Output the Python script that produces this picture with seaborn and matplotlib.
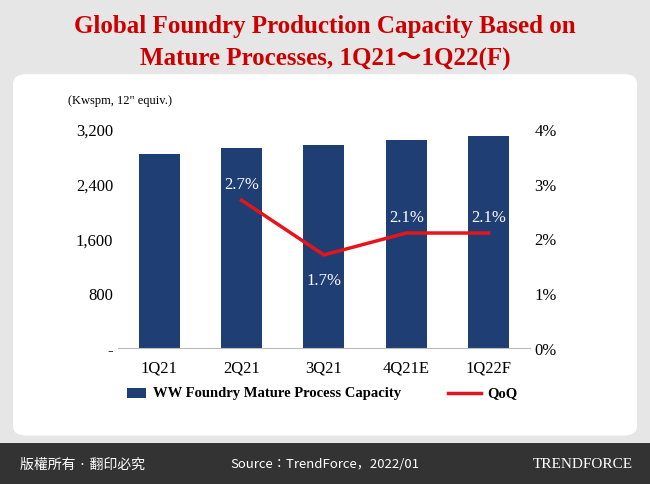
import matplotlib
matplotlib.use("Agg")
import matplotlib.pyplot as plt
import seaborn as sns
import pandas as pd
from matplotlib.patches import FancyBboxPatch, Rectangle

categories = ["1Q21", "2Q21", "3Q21", "4Q21E", "1Q22F"]
capacity = [2840, 2920, 2970, 3035, 3100]
qoq_cats = ["2Q21", "3Q21", "4Q21E", "1Q22F"]
qoq = [2.7, 1.7, 2.1, 2.1]
left_ticks = [0, 800, 1600, 2400, 3200]
left_labels = ["-", "800", "1,600", "2,400", "3,200"]
right_ticks = [0, 1, 2, 3, 4]

CJK = ["Noto Sans CJK JP", "DejaVu Sans"]

fig = plt.figure(figsize=(6.5, 4.85), dpi=100)
fig.patch.set_facecolor("#e6e6e6")
fig.patches.append(FancyBboxPatch((0.02, 0.10), 0.96, 0.745, boxstyle="round,pad=0,rounding_size=0.02",
                                  transform=fig.transFigure, facecolor="white", edgecolor="none", zorder=-5))
fig.patches.append(Rectangle((0, 0), 1, 0.085, transform=fig.transFigure, facecolor="#333333", edgecolor="none", zorder=-5))

fig.text(0.5, 0.945, "Global Foundry Production Capacity Based on", ha="center", va="center",
         color="#cc0000", fontsize=18, fontweight="bold", family="Liberation Serif")
fig.text(0.5, 0.878, "Mature Processes, 1Q21\uff5e1Q22(F)", ha="center", va="center",
         color="#cc0000", fontsize=18, fontweight="bold", family=["Liberation Serif", "Noto Sans CJK JP"])
fig.text(0.105, 0.785, "(Kwspm, 12\" equiv.)", fontsize=9, family="Liberation Serif")

ax = fig.add_axes([0.1815, 0.2804, 0.6335, 0.4516])
ax.patch.set_alpha(0)
df = pd.DataFrame({"cat": categories, "cap": capacity})
sns.barplot(data=df, x="cat", y="cap", color="#1f3e73", width=0.5, ax=ax, saturation=1)
ax.set_ylim(0, 3200)
ax.set_yticks(left_ticks)
ax.set_yticklabels(left_labels)
ax.set_xlabel(""); ax.set_ylabel("")
for s in ["top", "right", "left"]:
    ax.spines[s].set_visible(False)
ax.spines["bottom"].set_color("#bbbbbb")
ax.tick_params(length=0, labelsize=12)
ax.tick_params(axis="x", pad=8)
for l in ax.get_xticklabels() + ax.get_yticklabels():
    l.set_family("Liberation Serif")

ax2 = ax.twinx()
xpos = [categories.index(c) for c in qoq_cats]
sns.lineplot(x=xpos, y=qoq, color="#e8141b", linewidth=2.5, ax=ax2)
ax2.set_ylim(0, 4)
ax2.set_yticks(right_ticks)
ax2.set_yticklabels([f"{t}%" for t in right_ticks])
for s in ["top", "right", "left", "bottom"]:
    ax2.spines[s].set_visible(False)
ax2.tick_params(length=0, labelsize=12)
for l in ax2.get_yticklabels():
    l.set_family("Liberation Serif")
for x, v in zip(xpos, qoq):
    off = -0.45 if v < 2 else 0.3
    ax2.text(x, v + off, f"{v}%", ha="center", va="center", color="white", fontsize=12, family="Liberation Serif")
ax.set_xlim(-0.5, 4.5)

# legend
fig.patches.append(Rectangle((0.195, 0.178), 0.03, 0.02, transform=fig.transFigure, facecolor="#1f3e73"))
fig.text(0.235, 0.188, "WW Foundry Mature Process Capacity", va="center", fontsize=10.5, fontweight="bold", family="Liberation Serif")
fig.lines.append(plt.Line2D([0.69, 0.74], [0.188, 0.188], transform=fig.transFigure, color="#e8141b", linewidth=2.5))
fig.text(0.75, 0.188, "QoQ", va="center", fontsize=10.5, fontweight="bold", family="Liberation Serif")

fig.text(0.03, 0.042, "版權所有 · 翻印必究", color="white", fontsize=10, va="center", family=CJK)
fig.text(0.5, 0.042, "Source\uff1aTrendForce\uff0c2022/01", color="white", fontsize=9.5, va="center", ha="center", family=CJK)
fig.text(0.82, 0.042, "TRENDFORCE", color="white", fontsize=11, va="center", family="Liberation Serif")

fig.savefig("out.png", dpi=100, facecolor=fig.get_facecolor())
